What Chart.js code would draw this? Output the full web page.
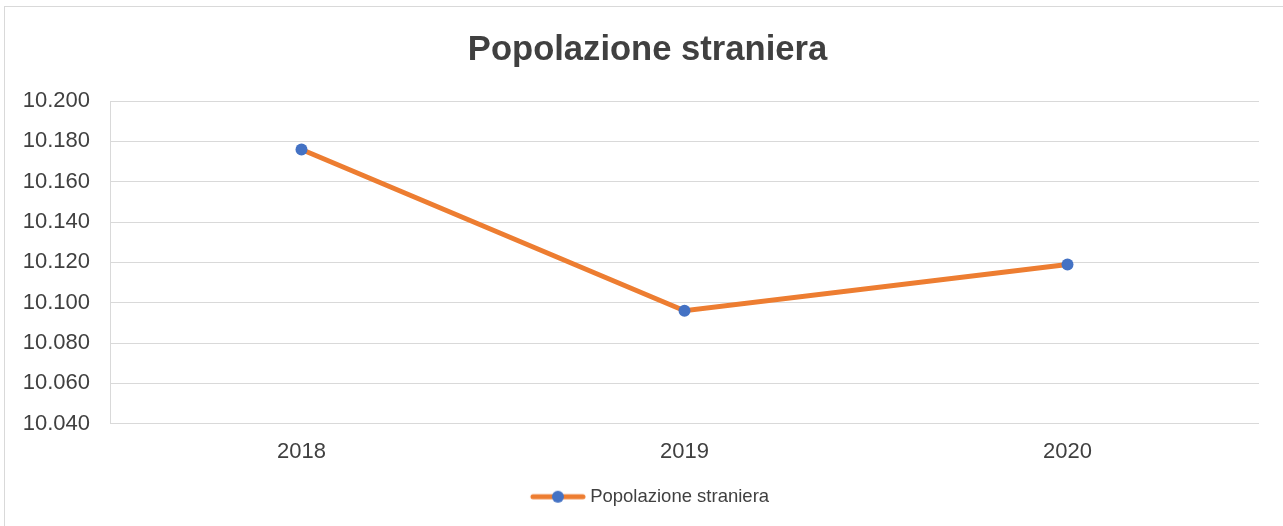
<!DOCTYPE html>
<html>
<head>
<meta charset="utf-8">
<script src="https://cdn.jsdelivr.net/npm/chart.js@4.4.1/dist/chart.umd.min.js"></script>
<style>
  html, body { margin: 0; padding: 0; background: #ffffff; overflow: hidden; width: 1283px; height: 526px; }
  #frame { position: absolute; left: 4px; top: 6px; width: 1290px; height: 540px; border: 1px solid #d9d9d9; }
  #wrap { position: absolute; left: 0; top: 0; width: 1285px; height: 519px; }
</style>
</head>
<body>
<div id="frame"><div id="wrap"><canvas id="c" width="1285" height="519"></canvas></div></div>
<script>
const categories = ['2018', '2019', '2020'];
const seriesName = 'Popolazione straniera';
const seriesValues = [10176, 10096, 10119];
const yMin = 10040;
const yMax = 10200;
const yStep = 20;
const chartTitle = 'Popolazione straniera';

const ORANGE = '#ED7D31';
const BLUE = '#4472C4';
const TEXT = '#404040';
const GRID = '#d9d9d9';

function fmt(v) {
  return String(Math.round(v)).replace(/\B(?=(\d{3})+(?!\d))/g, '.');
}

// legend marker: line with a dot in the middle
const marker = document.createElement('canvas');
marker.width = 65; marker.height = 14;
(function () {
  const g = marker.getContext('2d');
  g.strokeStyle = ORANGE; g.lineWidth = 5; g.lineCap = 'round';
  g.beginPath(); g.moveTo(12, 7); g.lineTo(62, 7); g.stroke();
  g.fillStyle = BLUE; g.beginPath(); g.arc(37, 7, 6, 0, Math.PI * 2); g.fill();
})();

new Chart(document.getElementById('c'), {
  type: 'line',
  data: {
    labels: categories,
    datasets: [{
      label: seriesName,
      data: seriesValues,
      yAxisID: 'y',
      borderColor: ORANGE,
      backgroundColor: BLUE,
      borderWidth: 5,
      tension: 0,
      pointRadius: 6,
      pointHoverRadius: 6,
      pointBackgroundColor: BLUE,
      pointBorderColor: BLUE,
      pointBorderWidth: 0,
      fill: false
    }]
  },
  options: {
    responsive: false,
    animation: false,
    events: [],
    layout: { padding: { left: 0, right: 0, top: 0, bottom: 10 } },
    plugins: {
      title: {
        display: true,
        text: chartTitle,
        color: TEXT,
        font: { family: 'Liberation Sans, Arial, sans-serif', size: 34.6, weight: 'bold', lineHeight: 1.2 },
        padding: { top: 23, bottom: 29.5 }
      },
      legend: {
        display: true,
        position: 'bottom',
        labels: {
          color: TEXT,
          font: { family: 'Liberation Sans, Arial, sans-serif', size: 18.5 },
          usePointStyle: true,
          pointStyleWidth: 55,
          padding: 10,
          generateLabels: (chart) => [{
            text: seriesName,
            pointStyle: marker,
            fillStyle: BLUE,
            strokeStyle: ORANGE,
            lineWidth: 0,
            fontColor: TEXT,
            hidden: false,
            datasetIndex: 0
          }]
        }
      },
      tooltip: { enabled: false }
    },
    scales: {
      x: {
        offset: true,
        grid: { display: false, drawTicks: false },
        border: { display: false },
        ticks: {
          color: TEXT,
          padding: 15,
          font: { family: 'Liberation Sans, Arial, sans-serif', size: 22 }
        },
        afterFit: (s) => { s.height = 53.75; }
      },
      y: {
        position: 'left',
        min: yMin,
        max: yMax,
        grid: { color: GRID, lineWidth: 1, drawTicks: false },
        border: { display: true, color: GRID, width: 1 },
        ticks: {
          stepSize: yStep,
          color: TEXT,
          padding: 20,
          font: { family: 'Liberation Sans, Arial, sans-serif', size: 22 },
          callback: (v) => fmt(v)
        },
        afterFit: (s) => { s.width = 105; }
      },
      yRight: {
        position: 'right',
        display: true,
        grid: { display: false, drawTicks: false },
        border: { display: false },
        ticks: { display: false },
        afterFit: (s) => { s.width = 31; }
      }
    }
  }
});
</script>
</body>
</html>
